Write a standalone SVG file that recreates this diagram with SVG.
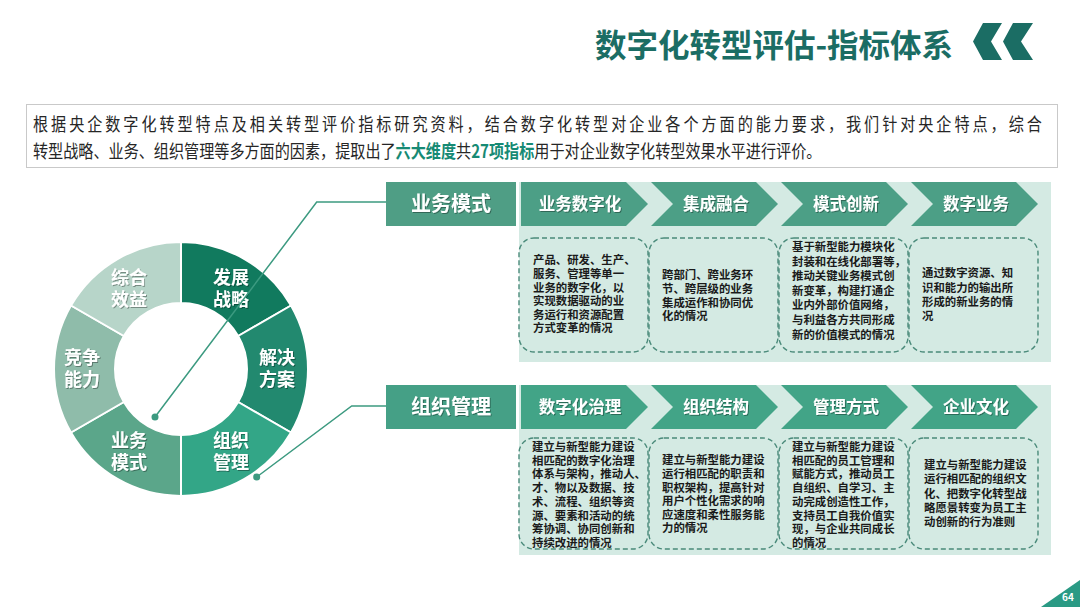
<svg xmlns="http://www.w3.org/2000/svg" width="1080" height="607" viewBox="0 0 1080 607">
<defs>
<style>
.cjk{font-family:"Noto Sans CJK SC","Noto Sans",sans-serif}
.title{font-weight:700;font-size:32px;fill:#1b6d64}
.intro{font-size:18px;fill:#262626}
.hl{font-weight:700;fill:#168a74}
.seg{stroke:#fff;stroke-width:2}
.lbl{font-weight:700;font-size:18px;fill:#fff;text-anchor:middle}
.hdr{font-weight:700;font-size:20px;fill:#fff;text-anchor:middle}
.chv{font-weight:700;font-size:16.5px;fill:#fff;text-anchor:middle}
.body{font-weight:700;font-size:11.4px;fill:#1a1a1a}
.panel{fill:#d4eae3}
.dbox{fill:none;stroke:#4a8a7a;stroke-width:1.4;stroke-dasharray:5 3}
.conn{fill:none;stroke:#3c9a80;stroke-width:1.5}
</style>
<filter id="sh" x="-20%" y="-30%" width="140%" height="160%">
<feDropShadow dx="1" dy="1" stdDeviation="0.7" flood-color="#000" flood-opacity="0.35"/>
</filter>
</defs>
<rect width="1080" height="607" fill="#fff"/>

<g id="title">
<text class="cjk title" x="595" y="57" textLength="358" lengthAdjust="spacingAndGlyphs">数字化转型评估-指标体系</text>
<polygon points="983,23 1002,23 991,41.5 1002,60 983,60 973,41.5" fill="#1b6d64"/>
<polygon points="1013,23 1033,23 1021,41.5 1033,60 1013,60 1003,41.5" fill="#1b6d64"/>
</g>

<g id="intro">
<rect x="26.5" y="104.5" width="1031" height="63" fill="#fff" stroke="#c9c9c9" stroke-width="1"/>
<g transform="translate(33,0) scale(0.84,1)">
<text class="cjk intro" x="0" y="131" textLength="1201" lengthAdjust="spacing">根据央企数字化转型特点及相关转型评价指标研究资料，结合数字化转型对企业各个方面的能力要求，我们针对央企特点，综合</text>
<text class="cjk intro" x="0" y="158">转型战略、业务、组织管理等多方面的因素，提取出了<tspan class="hl">六大维度</tspan>共<tspan class="hl">27项指标</tspan>用于对企业数字化转型效果水平进行评价。</text>
</g>
</g>

<g id="donut">
<path class="seg" fill="#117a5e" d="M181,242 A127,127 0 0 1 290.99,305.5 L238.16,336 A66,66 0 0 0 181,303 Z"/>
<path class="seg" fill="#22896f" d="M290.99,305.5 A127,127 0 0 1 290.99,432.5 L238.16,402 A66,66 0 0 0 238.16,336 Z"/>
<path class="seg" fill="#33a687" d="M290.99,432.5 A127,127 0 0 1 181,496 L181,435 A66,66 0 0 0 238.16,402 Z"/>
<path class="seg" fill="#5ba68a" d="M181,496 A127,127 0 0 1 71.01,432.5 L123.84,402 A66,66 0 0 0 181,435 Z"/>
<path class="seg" fill="#8fbcaa" d="M71.01,432.5 A127,127 0 0 1 71.01,305.5 L123.84,336 A66,66 0 0 0 123.84,402 Z"/>
<path class="seg" fill="#b7d5c9" d="M71.01,305.5 A127,127 0 0 1 181,242 L181,303 A66,66 0 0 0 123.84,336 Z"/>
</g>
<g id="seg-fazhan" filter="url(#sh)"><text class="cjk lbl"><tspan x="231" y="283.5">发展</tspan><tspan x="231" y="305.5">战略</tspan></text></g>
<g id="seg-jiejue" filter="url(#sh)"><text class="cjk lbl"><tspan x="277" y="363.5">解决</tspan><tspan x="277" y="385.5">方案</tspan></text></g>
<g id="seg-zuzhi" filter="url(#sh)"><text class="cjk lbl"><tspan x="231" y="447">组织</tspan><tspan x="231" y="469">管理</tspan></text></g>
<g id="seg-yewu" filter="url(#sh)"><text class="cjk lbl"><tspan x="129" y="447">业务</tspan><tspan x="129" y="469">模式</tspan></text></g>
<g id="seg-jingzheng" filter="url(#sh)"><text class="cjk lbl"><tspan x="82" y="363.5">竞争</tspan><tspan x="82" y="385.5">能力</tspan></text></g>
<g id="seg-zonghe" filter="url(#sh)"><text class="cjk lbl"><tspan x="129" y="283.5">综合</tspan><tspan x="129" y="305.5">效益</tspan></text></g>

<g id="connectors">
<path class="conn" d="M155,417 L316.7,202 L386,202"/>
<circle cx="155" cy="417" r="3.5" fill="#3c9a80"/>
<path class="conn" d="M256.7,477 L351.7,406 L386,406"/>
<circle cx="256.7" cy="477" r="3.5" fill="#3c9a80"/>
</g>

<g id="row-yewu">
<rect x="386" y="182" width="130" height="44" fill="#4f9e85"/>
<text class="cjk hdr" x="451" y="211" filter="url(#sh)">业务模式</text>
<rect class="panel" x="519" y="182" width="532" height="180"/>
<path fill="#4c9f86" d="M521,182 H626 L648,204 L626,226 H521 Z"/>
<path fill="#4c9f86" d="M651,182 H756 L778,204 L756,226 H651 L673,204 Z"/>
<path fill="#4c9f86" d="M781,182 H886 L908,204 L886,226 H781 L803,204 Z"/>
<path fill="#4c9f86" d="M911,182 H1016 L1038,204 L1016,226 H911 L933,204 Z"/>
<g filter="url(#sh)">
<text class="cjk chv" x="580" y="210">业务数字化</text>
<text class="cjk chv" x="716" y="210">集成融合</text>
<text class="cjk chv" x="846" y="210">模式创新</text>
<text class="cjk chv" x="976" y="210">数字业务</text>
</g>
</g>

<g id="box-yewu-1">
<rect class="dbox" x="519" y="238" width="129" height="114" rx="15"/>
<text class="cjk body"><tspan x="533" y="264.3">产品、研发、生产、</tspan><tspan x="533" y="277.9">服务、管理等单一</tspan><tspan x="533" y="291.5">业务的数字化，以</tspan><tspan x="533" y="305.1">实现数据驱动的业</tspan><tspan x="533" y="318.7">务运行和资源配置</tspan><tspan x="533" y="332.3">方式变革的情况</tspan></text>
</g>
<g id="box-yewu-2">
<rect class="dbox" x="649" y="238" width="129" height="114" rx="15"/>
<text class="cjk body"><tspan x="662" y="279.3">跨部门、跨业务环</tspan><tspan x="662" y="292.9">节、跨层级的业务</tspan><tspan x="662" y="306.5">集成运作和协同优</tspan><tspan x="662" y="320.1">化的情况</tspan></text>
</g>
<g id="box-yewu-3">
<rect class="dbox" x="779" y="238" width="129" height="114" rx="15"/>
<text class="cjk body"><tspan x="792" y="251">基于新型能力模块化</tspan><tspan x="792" y="265.6">封装和在线化部署等，</tspan><tspan x="792" y="280.2">推动关键业务模式创</tspan><tspan x="792" y="294.8">新变革，构建打通企</tspan><tspan x="792" y="309.4">业内外部价值网络，</tspan><tspan x="792" y="324">与利益各方共同形成</tspan><tspan x="792" y="338.6">新的价值模式的情况</tspan></text>
</g>
<g id="box-yewu-4">
<rect class="dbox" x="909" y="238" width="129" height="114" rx="15"/>
<text class="cjk body"><tspan x="922" y="277.3">通过数字资源、知</tspan><tspan x="922" y="291.6">识和能力的输出所</tspan><tspan x="922" y="305.9">形成的新业务的情</tspan><tspan x="922" y="320.2">况</tspan></text>
</g>

<g id="row-zuzhi">
<rect x="386" y="385" width="130" height="44" fill="#45a086"/>
<text class="cjk hdr" x="451" y="414" filter="url(#sh)">组织管理</text>
<rect class="panel" x="519" y="385" width="532" height="170"/>
<path fill="#42a487" d="M521,385 H626 L648,407 L626,429 H521 Z"/>
<path fill="#42a487" d="M651,385 H756 L778,407 L756,429 H651 L673,407 Z"/>
<path fill="#42a487" d="M781,385 H886 L908,407 L886,429 H781 L803,407 Z"/>
<path fill="#42a487" d="M911,385 H1016 L1038,407 L1016,429 H911 L933,407 Z"/>
<g filter="url(#sh)">
<text class="cjk chv" x="580" y="413">数字化治理</text>
<text class="cjk chv" x="716" y="413">组织结构</text>
<text class="cjk chv" x="846" y="413">管理方式</text>
<text class="cjk chv" x="976" y="413">企业文化</text>
</g>
</g>

<g id="box-zuzhi-1">
<rect class="dbox" x="519" y="438" width="129" height="111" rx="15"/>
<text class="cjk body"><tspan x="532" y="451">建立与新型能力建设</tspan><tspan x="532" y="464.7">相匹配的数字化治理</tspan><tspan x="532" y="478.4">体系与架构，推动人、</tspan><tspan x="532" y="492.1">才、物以及数据、技</tspan><tspan x="532" y="505.8">术、流程、组织等资</tspan><tspan x="532" y="519.5">源、要素和活动的统</tspan><tspan x="532" y="533.2">筹协调、协同创新和</tspan><tspan x="532" y="546.9">持续改进的情况</tspan></text>
</g>
<g id="box-zuzhi-2">
<rect class="dbox" x="649" y="438" width="129" height="111" rx="15"/>
<text class="cjk body"><tspan x="662" y="464.3">建立与新型能力建设</tspan><tspan x="662" y="477.9">运行相匹配的职责和</tspan><tspan x="662" y="491.5">职权架构，提高针对</tspan><tspan x="662" y="505.1">用户个性化需求的响</tspan><tspan x="662" y="518.7">应速度和柔性服务能</tspan><tspan x="662" y="532.3">力的情况</tspan></text>
</g>
<g id="box-zuzhi-3">
<rect class="dbox" x="779" y="438" width="129" height="111" rx="15"/>
<text class="cjk body"><tspan x="792" y="451">建立与新型能力建设</tspan><tspan x="792" y="464.7">相匹配的员工管理和</tspan><tspan x="792" y="478.4">赋能方式，推动员工</tspan><tspan x="792" y="492.1">自组织、自学习、主</tspan><tspan x="792" y="505.8">动完成创造性工作，</tspan><tspan x="792" y="519.5">支持员工自我价值实</tspan><tspan x="792" y="533.2">现，与企业共同成长</tspan><tspan x="792" y="546.9">的情况</tspan></text>
</g>
<g id="box-zuzhi-4">
<rect class="dbox" x="909" y="438" width="129" height="111" rx="15"/>
<text class="cjk body"><tspan x="924" y="469.3">建立与新型能力建设</tspan><tspan x="924" y="483.4">运行相匹配的组织文</tspan><tspan x="924" y="497.5">化、把数字化转型战</tspan><tspan x="924" y="511.6">略愿景转变为员工主</tspan><tspan x="924" y="525.7">动创新的行为准则</tspan></text>
</g>

<g id="page">
<polygon points="1041,607 1080,580 1080,607" fill="#2a9a84"/>
<text class="cjk" x="1062" y="601" font-size="10" font-weight="700" fill="#fff">64</text>
</g>
</svg>
